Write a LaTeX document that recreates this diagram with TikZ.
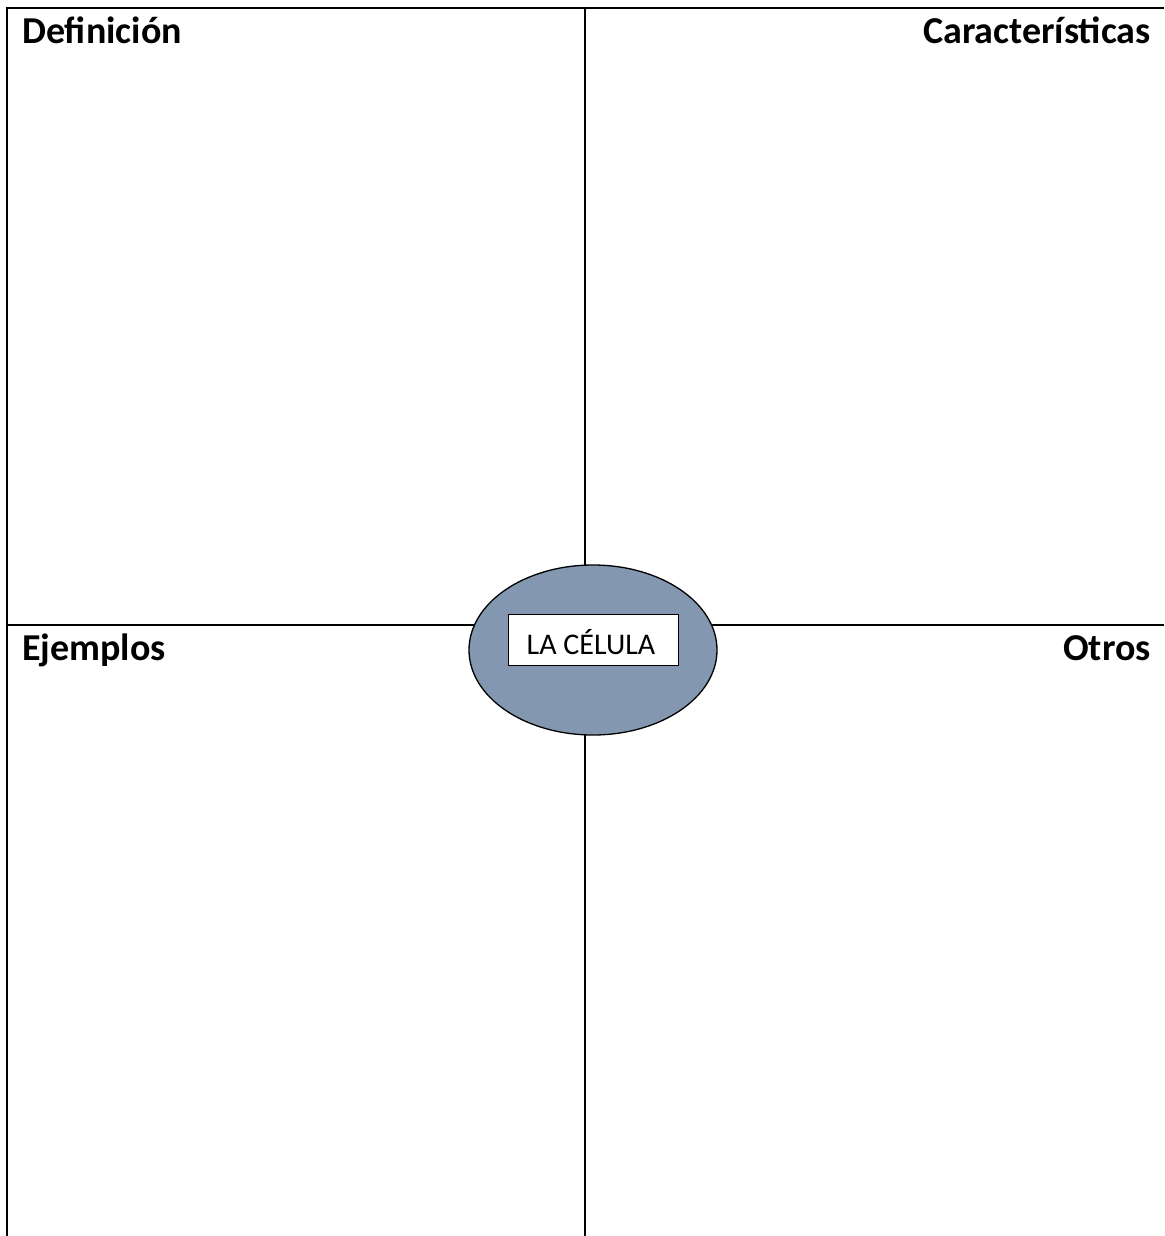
\documentclass[tikz,border=0pt]{standalone}
\usepackage{fontspec}
\setmainfont{Carlito}
\usetikzlibrary{shapes.geometric}

\tikzset{
  frameline/.style={line width=1.8pt},
  heading/.style={font=\fontsize{38}{40}\selectfont\bfseries, inner sep=0pt},
  cellshape/.style={ellipse, draw, line width=1.3pt, fill={rgb,255:red,132;green,151;blue,176},
    minimum width=248pt, minimum height=170pt, inner sep=0pt},
  titlebox/.style={draw, fill=white, line width=0.9pt, minimum width=170pt, minimum height=51pt},
  titletext/.style={font=\fontsize{30}{32}\selectfont, inner sep=0pt}
}

\begin{document}
\begin{tikzpicture}[x=1pt,y=-1pt]
\useasboundingbox (0,0) rectangle (1164,1236);

% frame
\coordinate (tl) at (7,8);
\coordinate (tr) at (1164,8);
\coordinate (bl) at (7,1236);
\coordinate (mt) at (585,8);
\coordinate (mb) at (585,1236);
\coordinate (ml) at (7,625);
\coordinate (mr) at (1164,625);
\draw[frameline] (bl) -- (tl) -- (tr);
\draw[frameline] (mt) -- (mb);
\draw[frameline] (ml) -- (mr);

% centre
\node[cellshape] (cell) at (593,650) {};
\node[titlebox] (celltitle) at (593,640) {};
\node[titletext, anchor=base] (celltext) at (591,654) {LA CÉLULA};

% quadrant headings
\node[heading, anchor=base west] (defin) at (22,44) {Definición};
\node[heading, anchor=base east] (carac) at (1151,44) {Características};
\node[heading, anchor=base west] (ejemp) at (22,660) {Ejemplos};
\node[heading, anchor=base east] (otros) at (1151,660) {Otros};
\end{tikzpicture}
\end{document}
